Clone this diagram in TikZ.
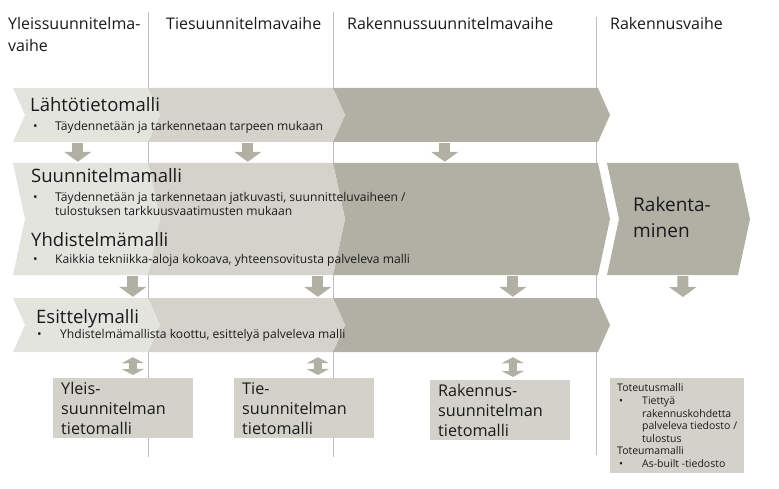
\documentclass[tikz,border=0pt]{standalone}
\usepackage{fontspec}
\setmainfont{Open Sans}
\usepackage{tikz}
\usetikzlibrary{arrows.meta}

\definecolor{lightband}{HTML}{E4E4DF}
\definecolor{midband}{HTML}{D4D3CB}
\definecolor{darkband}{HTML}{B1B0A4}
\definecolor{modelbox}{HTML}{D3D2CA}
\definecolor{phaseline}{HTML}{BEBEBE}
\definecolor{ink}{HTML}{1A1A1A}

% chevron: x left, x right, y top, y bottom, colour
\newcommand{\chevron}[5]{%
  \fill[#5] (#1,#3) -- (#2,#3) -- ({#2+12},{(#3+#4)/2}) -- (#2,#4)
    -- (#1,#4) -- ({#1+12},{(#3+#4)/2}) -- cycle;}

\begin{document}
\begin{tikzpicture}[x=1pt,y=-1pt,text=ink]
    \tikzstyle{phase}=[anchor=base west,inner sep=0pt,font=\fontsize{16}{22}\selectfont]
    \tikzstyle{title}=[anchor=base west,inner sep=0pt,font=\fontsize{18.5}{20}\selectfont]
    \tikzstyle{point}=[anchor=base west,inner sep=0pt,font=\fontsize{12.1}{13}\selectfont]
    \tikzstyle{band}=[inner sep=0pt,minimum width=585pt]
    \tikzstyle{model}=[fill=modelbox,anchor=north west,minimum width=140pt,minimum height=60pt,
        inner xsep=8pt,inner ysep=1pt,text width=124pt,align=left,font=\fontsize{16.2}{20}\selectfont]
    \tikzstyle{down}=[draw=darkband,line width=11pt,-{Triangle[width=27pt,length=10pt]},
        shorten <=1pt,shorten >=1pt]
    \tikzstyle{both}=[draw=darkband,line width=8pt,{Triangle[width=22pt,length=6pt]}-{Triangle[width=22pt,length=6pt]},
        shorten <=5pt,shorten >=3pt]

    \useasboundingbox (0,0) rectangle (779,489);

    % Phase borders
    \draw[phaseline,line width=0.8pt] (148,12) -- (148,457);
    \draw[phaseline,line width=0.8pt] (333,12) -- (333,457);
    \draw[phaseline,line width=0.8pt] (596,17) -- (596,455);

    % Phase headings
    \node[phase] (P-1) at (8,30) {Yleissuunnitelma-};
    \node[phase] (P-1b) at (8,52) {vaihe};
    \node[phase] (P-2) at (166,30) {Tiesuunnitelmavaihe};
    \node[phase] (P-3) at (347,30) {Rakennussuunnitelmavaihe};
    \node[phase] (P-4) at (610,30) {Rakennusvaihe};

    % Bands (dark, mid, light from right to left)
    \foreach \yt/\yb in {88/142,163/275,298/352}{
        \chevron{333}{598}{\yt}{\yb}{darkband}
        \chevron{148}{333}{\yt}{\yb}{midband}
        \chevron{13}{148}{\yt}{\yb}{lightband}
    }
    \chevron{607}{738}{163}{275}{darkband}

    \node[band,minimum height=54pt] (L) at (305.5,115) {};
    \node[band,minimum height=112pt] (S) at (305.5,219) {};
    \node[band,minimum height=54pt] (E) at (305.5,325) {};
    \node[inner sep=0pt,minimum width=131pt,minimum height=112pt] (R) at (672.5,219) {};

    % Band texts
    \node[title] (L-t) at (30,112) {Lähtötietomalli};
    \node[point] (L-p) at (33,131) {\makebox[22pt][l]{•}Täydennetään ja tarkennetaan tarpeen mukaan};
    \node[title] (S-t) at (31,183) {Suunnitelmamalli};
    \node[point] (S-p) at (33,202) {\makebox[22pt][l]{•}Täydennetään ja tarkennetaan jatkuvasti, suunnitteluvaiheen /};
    \node[point] (S-p2) at (55,215) {tulostuksen tarkkuusvaatimusten mukaan};
    \node[title] (Y-t) at (31,247) {Yhdistelmämalli};
    \node[point] (Y-p) at (33,263) {\makebox[22pt][l]{•}Kaikkia tekniikka-aloja kokoava, yhteensovitusta palveleva malli};
    \node[title] (E-t) at (36,323) {Esittelymalli};
    \node[point] (E-p) at (37,338) {\makebox[23pt][l]{•}Yhdistelmämallista koottu, esittelyä palveleva malli};
    \node[title,font=\fontsize{19}{25}\selectfont] (R-t) at (633,212) {Rakenta-};
    \node[title,font=\fontsize{19}{25}\selectfont] (R-t2) at (633,237) {minen};

    % Model boxes
    \node[model] (M-1) at (53,378) {Yleis-\\suunnitelman\\tietomalli};
    \node[model] (M-2) at (234,378) {Tie-\\suunnitelman\\tietomalli};
    \node[model] (M-3) at (430,380) {Rakennus-\\suunnitelman\\tietomalli};
    \node[fill=modelbox,anchor=north west,minimum width=132pt,minimum height=95pt,align=left,
        inner xsep=7pt,inner ysep=3pt,font=\fontsize{10.5}{12.6}\selectfont] (M-4) at (610,378)
        {Toteutusmalli\\
         \makebox[25pt][l]{\hspace{2pt}•}Tiettyä\\
         \hspace*{25pt}rakennuskohdetta\\
         \hspace*{25pt}palveleva tiedosto /\\
         \hspace*{25pt}tulostus\\
         Toteumamalli\\
         \makebox[25pt][l]{\hspace{2pt}•}As-built -tiedosto};

    % Flow between bands
    \draw[down] ([xshift=65pt]L.south west) -- ([xshift=65pt]S.north west);
    \draw[down] ([xshift=235pt]L.south west) -- ([xshift=235pt]S.north west);
    \draw[down] ([xshift=432pt]L.south west) -- ([xshift=432pt]S.north west);
    \draw[down] ([xshift=120pt]S.south west) -- ([xshift=120pt]E.north west);
    \draw[down] ([xshift=305pt]S.south west) -- ([xshift=305pt]E.north west);
    \draw[down] ([xshift=500pt]S.south west) -- ([xshift=500pt]E.north west);
    \coordinate (R-end) at (683,298);
    \draw[down] ([xshift=76pt]R.south west) -- (R-end);

    % Links to the model boxes
    \draw[both] ([xshift=120pt]E.south west) -- ([xshift=80pt]M-1.north west);
    \draw[both] ([xshift=305pt]E.south west) -- ([xshift=84pt]M-2.north west);
    \draw[both] ([xshift=500pt]E.south west) -- ([xshift=83pt]M-3.north west);
\end{tikzpicture}
\end{document}
